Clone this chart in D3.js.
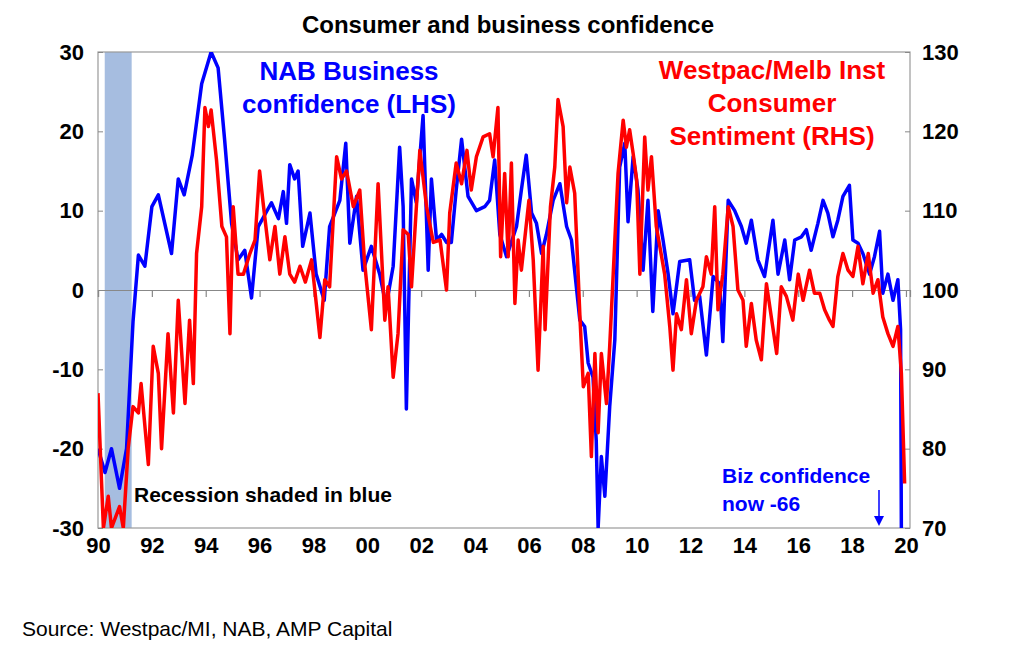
<!DOCTYPE html>
<html>
<head>
<meta charset="utf-8">
<script src="https://cdn.jsdelivr.net/npm/d3@7"></script>
<style>
  body { margin: 0; background: #fff; }
  text { font-family: "Liberation Sans", Arial, sans-serif; }
</style>
</head>
<body>
<svg id="chart" width="1024" height="650"></svg>
<script>
// NAB business confidence (LHS), [year, value]
var nabData = [
  [1990.0,-20],[1990.26,-23],[1990.5,-20],[1990.8,-25],[1991.06,-20],[1991.3,-4],[1991.5,4.4],[1991.74,3],
  [1992.0,10.5],[1992.24,12],[1992.73,4.6],[1992.98,14],[1993.2,12],[1993.5,17],[1993.85,26],[1994.2,30],
  [1994.46,28],[1994.7,19],[1994.96,8.4],[1995.2,3.8],[1995.45,5],[1995.7,-1],[1995.95,8],[1996.44,11],
  [1996.7,9],[1996.88,12.4],[1997.0,8.4],[1997.12,15.8],[1997.3,14],[1997.43,15],[1997.6,5.5],[1997.87,9.7],
  [1998.1,2],[1998.4,-1.3],[1998.6,8],[1998.98,11.3],[1999.2,18.5],[1999.35,5.9],[1999.6,11.8],[1999.84,2.5],
  [2000.15,5.5],[2000.46,2],[2000.7,-2],[2000.96,3],[2001.2,18],[2001.33,10.5],[2001.45,-15],[2001.64,14],
  [2001.82,11],[2002.07,22],[2002.26,2.5],[2002.38,14],[2002.57,6.3],[2002.76,7],[2002.94,6],[2003.12,6],
  [2003.3,12.6],[2003.5,19],[2003.74,11.8],[2004.05,10],[2004.36,10.5],[2004.54,11.3],[2004.73,16.4],
  [2004.92,7],[2005.17,4.2],[2005.54,8],[2005.72,12.6],[2005.9,17],[2006.1,9.7],[2006.28,8.4],[2006.47,4.6],
  [2006.65,7],[2006.9,11.3],[2007.15,13.4],[2007.4,8],[2007.58,6.3],[2007.89,-3.8],[2008.07,-4.6],
  [2008.2,-9.2],[2008.38,-11],[2008.5,-19],[2008.57,-30],[2008.69,-21],[2008.82,-26],[2009.0,-14.7],
  [2009.19,-6.3],[2009.37,15.5],[2009.56,18.5],[2009.68,8.6],[2009.87,16.8],[2010.05,12.6],[2010.24,2.5],
  [2010.42,11.3],[2010.6,-2.7],[2010.8,10],[2010.98,6.3],[2011.17,2],[2011.35,-3],[2011.6,3.6],[2011.97,3.8],
  [2012.15,-1.3],[2012.34,-0.8],[2012.59,-8.2],[2012.84,1.7],[2013.08,0.8],[2013.2,-6.5],[2013.4,11.3],
  [2013.64,10],[2013.89,8],[2014.07,5.9],[2014.26,8.8],[2014.5,3.8],[2014.75,1.7],[2015.06,8.8],[2015.25,2],
  [2015.5,6.3],[2015.68,1.3],[2015.87,6.3],[2016.12,6.7],[2016.3,7.6],[2016.48,5],[2016.73,8.4],[2016.92,11.3],
  [2017.1,9.7],[2017.29,6.7],[2017.47,8.8],[2017.66,11.8],[2017.9,13.2],[2018.03,6.3],[2018.22,5.9],
  [2018.4,4.6],[2018.65,2],[2018.83,4.2],[2019.02,7.4],[2019.14,-0.4],[2019.33,2],[2019.52,-1.3],
  [2019.7,1.3],[2019.8,-5],[2019.87,-66]
];

// Westpac/Melbourne Institute consumer sentiment (RHS), [year, value]
var wbcData = [
  [1990.0,87],[1990.2,70],[1990.38,74],[1990.5,70],[1990.8,72.7],[1990.94,70],[1991.12,80],[1991.3,85.3],
  [1991.5,84.5],[1991.6,88.2],[1991.87,78],[1992.05,92.9],[1992.24,89.5],[1992.36,80],[1992.6,94.5],
  [1992.8,84.5],[1992.98,98.7],[1993.23,85.7],[1993.4,96.2],[1993.54,88.2],[1993.66,104.6],[1993.85,110.5],
  [1993.97,123],[1994.1,120.6],[1994.2,122.7],[1994.4,116.4],[1994.6,108],[1994.77,106.7],[1994.9,94.5],
  [1995.02,110.5],[1995.2,102],[1995.4,102],[1995.64,104.6],[1995.83,106.3],[1996.0,115],[1996.13,111],
  [1996.38,103.8],[1996.57,108],[1996.75,102],[1996.94,106.7],[1997.12,102],[1997.3,101],[1997.5,103],
  [1997.7,101],[1997.93,103.8],[1998.24,94],[1998.42,101.3],[1998.6,100.4],[1998.86,116.8],[1999.04,114],
  [1999.23,115],[1999.48,110.5],[1999.72,112.6],[1999.9,103.4],[2000.15,95],[2000.4,113.4],[2000.65,96.2],
  [2000.77,100.4],[2000.96,89],[2001.14,94.5],[2001.33,107.6],[2001.52,107],[2001.64,100.4],[2001.95,117.6],
  [2002.2,110.5],[2002.45,106],[2002.7,106.3],[2002.94,100],[2003.06,109.7],[2003.3,116],[2003.5,113.4],
  [2003.7,117.6],[2003.86,112.6],[2004.05,116.8],[2004.3,119.3],[2004.54,119.7],[2004.67,116.8],[2004.85,123],
  [2004.95,104.2],[2005.1,114.7],[2005.23,104.2],[2005.35,116],[2005.48,98.3],[2005.6,106.3],[2005.72,102.5],
  [2006.0,111.3],[2006.16,103.8],[2006.34,89.9],[2006.53,105.5],[2006.6,95],[2006.8,110.5],[2006.96,115.5],
  [2007.08,124],[2007.27,120.6],[2007.4,111],[2007.52,115.5],[2007.7,112.2],[2007.9,96.2],[2008.02,87.8],
  [2008.2,89.5],[2008.32,79],[2008.45,92],[2008.57,82],[2008.69,92],[2008.88,85.7],[2009.0,92.9],
  [2009.13,102],[2009.31,114.7],[2009.5,121.4],[2009.62,118],[2009.74,120.2],[2009.87,117.2],[2010.0,113.9],
  [2010.12,102],[2010.3,119.3],[2010.42,112.6],[2010.55,116.8],[2010.73,108],[2010.86,105.5],[2011.04,102],
  [2011.23,95.4],[2011.35,89.9],[2011.48,97],[2011.66,95],[2011.85,101.3],[2012.03,94.5],[2012.22,98.7],
  [2012.46,100.4],[2012.59,104.2],[2012.77,102],[2012.9,110.5],[2013.02,97.5],[2013.2,102],[2013.4,110.5],
  [2013.58,108],[2013.76,100],[2013.95,98.7],[2014.07,92.9],[2014.26,98.3],[2014.44,93.7],[2014.63,91.2],
  [2014.82,100.8],[2015.0,96.6],[2015.2,92],[2015.37,100.4],[2015.56,99.2],[2015.8,96.2],[2016.0,102],
  [2016.18,98.7],[2016.42,102.5],[2016.6,99.6],[2016.8,99.6],[2016.98,97.5],[2017.16,96.2],[2017.29,95.4],
  [2017.47,101.7],[2017.66,104.6],[2017.85,102.5],[2018.03,101.7],[2018.22,105.5],[2018.4,100.8],
  [2018.6,104.6],[2018.78,99.6],[2018.96,101.3],[2019.14,96.6],[2019.33,94.5],[2019.52,92.9],[2019.7,95.4],
  [2019.83,89.5],[2019.95,75.6]
];

var recession = [1990.25, 1991.25];
var xTicks = d3.range(1990, 2021, 2);
var leftTicks = [-30, -20, -10, 0, 10, 20, 30];
var rightTicks = [70, 80, 90, 100, 110, 120, 130];

var svg = d3.select('#chart');
var m = { left: 98, right: 910, top: 52, bottom: 528 };
var FONT = '"Liberation Sans", Arial, sans-serif';

var x = d3.scaleLinear().domain([1990, 2020.15]).range([m.left, m.right]);
var yL = d3.scaleLinear().domain([-30, 30]).range([m.bottom, m.top]);
var yR = d3.scaleLinear().domain([70, 130]).range([m.bottom, m.top]);

svg.append('defs').append('clipPath').attr('id', 'clip')
    .append('rect')
    .attr('x', m.left).attr('y', m.top)
    .attr('width', m.right - m.left).attr('height', m.bottom - m.top);

// recession band
svg.append('rect')
    .attr('x', x(recession[0])).attr('y', m.top)
    .attr('width', x(recession[1]) - x(recession[0]))
    .attr('height', m.bottom - m.top)
    .attr('fill', '#a6bde0');

// frame
svg.append('rect')
    .attr('x', m.left).attr('y', m.top)
    .attr('width', m.right - m.left).attr('height', m.bottom - m.top)
    .attr('fill', 'none').attr('stroke', '#999').attr('stroke-width', 1.2);

// zero line with year ticks
svg.append('g')
    .attr('transform', 'translate(0,' + yL(0) + ')')
    .call(d3.axisBottom(x).tickValues(xTicks).tickSize(7).tickFormat(''))
    .call(g => g.selectAll('line,path').attr('stroke', '#888').attr('stroke-width', 1.2));

function styleLabels(g) {
    g.selectAll('text').attr('font-size', 22).attr('font-weight', 'bold')
        .attr('fill', '#000').attr('font-family', FONT);
}

// bottom labels
svg.append('g')
    .attr('transform', 'translate(0,' + m.bottom + ')')
    .call(d3.axisBottom(x).tickValues(xTicks).tickSize(0).tickPadding(9)
        .tickFormat(d => d3.format('02d')(d % 100)))
    .call(g => g.select('.domain').remove())
    .call(styleLabels);

svg.append('g')
    .attr('transform', 'translate(' + m.left + ',0)')
    .call(d3.axisLeft(yL).tickValues(leftTicks).tickSize(-5).tickPadding(14).tickFormat(d => String(d)))
    .call(g => g.select('.domain').remove())
    .call(g => g.selectAll('line').attr('stroke', '#888'))
    .call(styleLabels);

svg.append('g')
    .attr('transform', 'translate(' + m.right + ',0)')
    .call(d3.axisRight(yR).tickValues(rightTicks).tickSize(-5).tickPadding(12).tickFormat(d => String(d)))
    .call(g => g.select('.domain').remove())
    .call(g => g.selectAll('line').attr('stroke', '#888'))
    .call(styleLabels);

var plot = svg.append('g').attr('clip-path', 'url(#clip)');

plot.append('path')
    .datum(nabData)
    .attr('d', d3.line().x(d => x(d[0])).y(d => yL(d[1])))
    .attr('fill', 'none').attr('stroke', '#0000ff').attr('stroke-width', 3.5)
    .attr('stroke-linejoin', 'round');

plot.append('path')
    .datum(wbcData)
    .attr('d', d3.line().x(d => x(d[0])).y(d => yR(d[1])))
    .attr('fill', 'none').attr('stroke', '#ff0000').attr('stroke-width', 3.5)
    .attr('stroke-linejoin', 'round');

// texts
svg.append('text').attr('x', 508).attr('y', 33).attr('text-anchor', 'middle')
    .attr('font-size', 24).attr('font-weight', 'bold').text('Consumer and business confidence');

var nab = svg.append('text').attr('text-anchor', 'middle').attr('fill', '#0000ff')
    .attr('font-size', 26).attr('font-weight', 'bold');
nab.append('tspan').attr('x', 349).attr('y', 80).text('NAB Business');
nab.append('tspan').attr('x', 349).attr('y', 113).text('confidence (LHS)');

var wbc = svg.append('text').attr('text-anchor', 'middle').attr('fill', '#ff0000')
    .attr('font-size', 26).attr('font-weight', 'bold');
wbc.append('tspan').attr('x', 772).attr('y', 79).text('Westpac/Melb Inst');
wbc.append('tspan').attr('x', 772).attr('y', 112).text('Consumer');
wbc.append('tspan').attr('x', 772).attr('y', 145).text('Sentiment (RHS)');

svg.append('text').attr('x', 134).attr('y', 502)
    .attr('font-size', 21).attr('font-weight', 'bold').text('Recession shaded in blue');

var biz = svg.append('text').attr('fill', '#0000ff').attr('font-size', 21).attr('font-weight', 'bold');
biz.append('tspan').attr('x', 722).attr('y', 483).text('Biz confidence');
biz.append('tspan').attr('x', 722).attr('y', 511).text('now -66');

svg.append('line').attr('x1', 879).attr('y1', 490).attr('x2', 879).attr('y2', 520)
    .attr('stroke', '#0000ff').attr('stroke-width', 1.5);
svg.append('path').attr('d', 'M874,516 L879,526 L884,516 Z').attr('fill', '#0000ff');

svg.append('text').attr('x', 22).attr('y', 636).attr('font-size', 21)
    .text('Source: Westpac/MI, NAB, AMP Capital');
</script>
</body>
</html>
